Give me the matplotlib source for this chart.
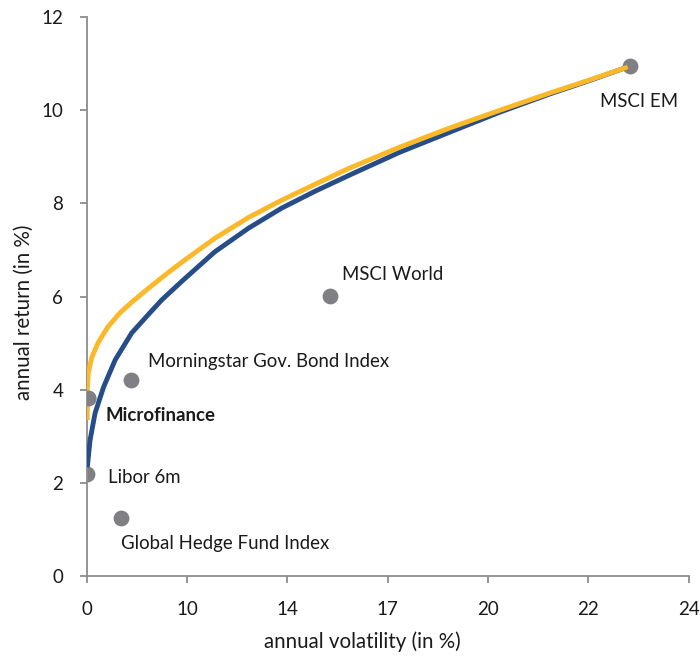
import numpy as np
import matplotlib.pyplot as plt

plt.rcParams['font.family'] = ['Lato', 'DejaVu Sans']

# asset points (volatility, return)
names = ['MSCI EM', 'MSCI World', 'Morningstar Gov. Bond Index', 'Microfinance',
         'Libor 6m', 'Global Hedge Fund Index']
vol = [21.65, 9.69, 1.75, 0.04, 0.0, 1.36]
ret = [10.94, 6.01, 4.21, 3.82, 2.19, 1.24]
# label offsets in points
offsets = [(-21.6, -25.2), (8.6, 15.8), (12.2, 13.7), (13, -12.2), (15.1, -2.2), (0, -18)]

# efficient frontier with microfinance (yellow)
yel_x = [0.02, 0.02, 0.06, 0.20, 0.46, 0.84, 1.32, 1.79, 2.46, 3.11, 3.79, 5.10, 6.45,
         7.77, 9.13, 10.48, 12.48, 14.47, 16.47, 18.46, 20.05, 21.57]
yel_y = [3.35, 3.99, 4.36, 4.70, 5.02, 5.35, 5.65, 5.88, 6.18, 6.46, 6.74, 7.25, 7.70,
         8.07, 8.42, 8.76, 9.21, 9.62, 10.00, 10.37, 10.65, 10.93]
# efficient frontier without microfinance (blue)
blu_x = [0.02, 0.13, 0.33, 0.67, 1.13, 1.79, 2.46, 2.99, 3.79, 5.10, 6.45, 7.77, 9.13,
         10.48, 12.48, 14.47, 16.47, 18.46, 20.05, 21.57]
blu_y = [2.34, 2.92, 3.50, 4.06, 4.64, 5.22, 5.62, 5.93, 6.33, 6.96, 7.47, 7.90, 8.27,
         8.61, 9.10, 9.53, 9.96, 10.35, 10.64, 10.93]

xticks = [0, 4, 8, 12, 16, 20, 24]
xticklabels = ['0', '10', '14', '17', '20', '22', '24']
yticks = [0, 2, 4, 6, 8, 10, 12]

fig = plt.figure(figsize=(7, 6.57), dpi=100)
ax = fig.add_axes([0.124, 0.123, 0.86, 0.851])

ax.scatter(vol, ret, s=130, color='#7f7f84', zorder=2, linewidths=0)
ax.plot(blu_x, blu_y, color='#274d88', lw=3.5, zorder=3, solid_capstyle='butt', solid_joinstyle='round')
ax.plot(yel_x, yel_y, color='#fbb829', lw=3.5, zorder=3, solid_capstyle='butt', solid_joinstyle='round')
ax.scatter([vol[3]], [ret[3]], s=130, color='#7f7f84', zorder=4, linewidths=0)

for i, n in enumerate(names):
    ax.annotate(n, (vol[i], ret[i]), xytext=offsets[i], textcoords='offset points',
                ha='left', va='center', fontsize=13.4, color='#1a1a1a',
                fontweight='bold' if n == 'Microfinance' else 'normal')

ax.set_xlim(0, 24)
ax.set_ylim(0, 12)
ax.set_xticks(xticks)
ax.set_xticklabels(xticklabels)
ax.set_yticks(yticks)
ax.tick_params(labelsize=13.5, colors='#8c8c8c', labelcolor='#1a1a1a', length=5, width=1.3, pad=13)
ax.tick_params(axis='y', pad=12)
for s in ['top', 'right']:
    ax.spines[s].set_visible(False)
for s in ['left', 'bottom']:
    ax.spines[s].set_color('#8c8c8c')
    ax.spines[s].set_linewidth(1.3)

ax.set_xlabel('annual volatility (in %)', fontsize=14.8, color='#1a1a1a')
ax.set_ylabel('annual return (in %)', fontsize=14.8, color='#1a1a1a')
ax.xaxis.set_label_coords(0.458, -0.098)
ax.yaxis.set_label_coords(-0.088, 0.472)

fig.savefig('out.png', dpi=100)
